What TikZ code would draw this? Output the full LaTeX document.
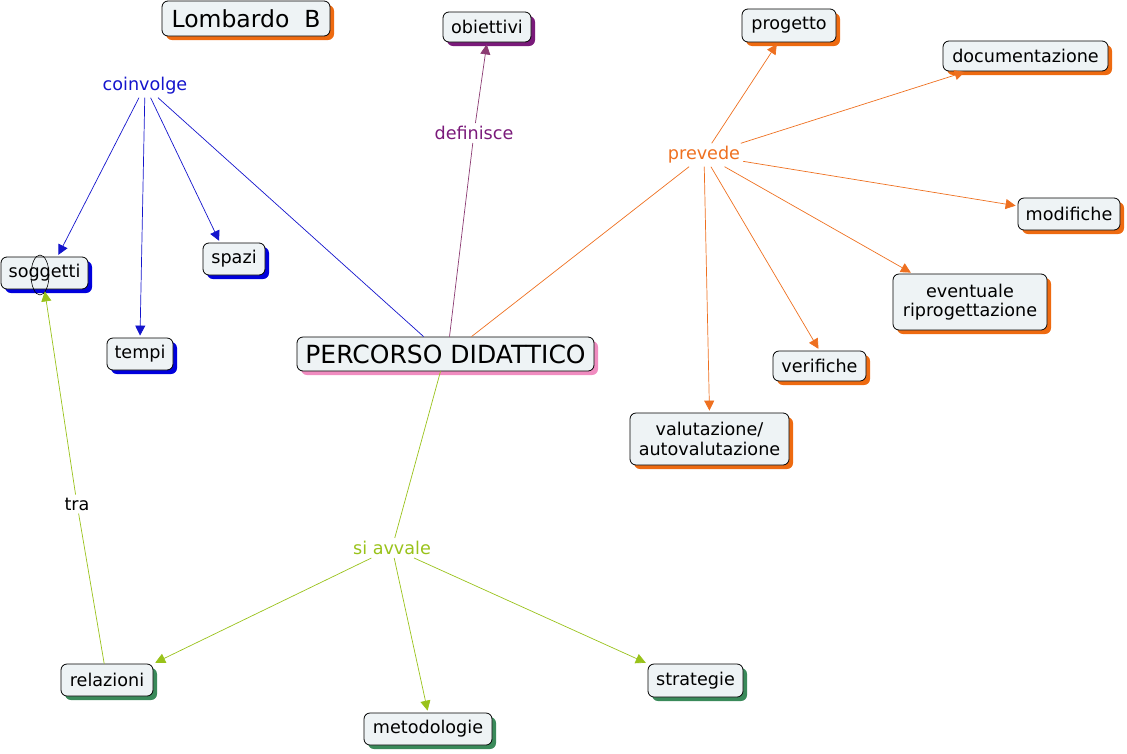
\documentclass[tikz,border=0pt]{standalone}
\usepackage{fontspec}
\setmainfont{DejaVu Sans}
\usetikzlibrary{shadows,arrows.meta}
\definecolor{boxfill}{HTML}{EEF3F5}
\definecolor{cblue}{HTML}{1414CC}
\definecolor{sblue}{HTML}{0000DD}
\definecolor{cpurple}{HTML}{7A1A7A}
\definecolor{lpurple}{HTML}{8B3A72}
\definecolor{corange}{HTML}{EE7020}
\definecolor{sorange}{HTML}{EE6A10}
\definecolor{cgreen}{HTML}{99C21A}
\definecolor{sgreen}{HTML}{3A8A5A}
\definecolor{spink}{HTML}{F08CC0}
\tikzset{
  x=1pt, y=-1pt,
  cbox/.style={draw=black, fill=boxfill, rounded corners=6pt, line width=0.8pt,
    inner sep=0pt, align=center, font=\fontsize{17.6}{19.5}\selectfont},
  sh/.style={drop shadow={shadow xshift=4pt, shadow yshift=-4pt, fill=#1, opacity=1}},
  lab/.style={inner sep=3pt, font=\fontsize{17.6}{20}\selectfont},
  arr/.style={-{Triangle[length=10pt,width=10pt]}, shorten >=2pt, line width=0.7pt},
  ln/.style={line width=0.7pt}
}
\begin{document}
\begin{tikzpicture}
\useasboundingbox (0,0) rectangle (1127,753);
% boxes
\node[cbox, sh=sorange, minimum width=168pt, minimum height=35pt, font=\fontsize{23.5}{27}\selectfont] (title) at (246,18.5) {Lombardo~~B};
\node[cbox, sh=cpurple, minimum width=88pt, minimum height=30pt] (obi) at (487,27) {obiettivi};
\node[cbox, sh=sorange, minimum width=94pt, minimum height=33pt] (prog) at (789,25.5) {progetto};
\node[cbox, sh=sorange, minimum width=165pt, minimum height=30pt] (doc) at (1025.5,56) {documentazione};
\node[cbox, sh=sorange, minimum width=102pt, minimum height=32pt] (mod) at (1069,214) {modifiche};
\node[cbox, sh=sorange, minimum width=154pt, minimum height=56pt] (ev) at (970,302) {eventuale\\riprogettazione};
\node[cbox, sh=sorange, minimum width=93pt, minimum height=30pt] (ver) at (819.5,366) {verifiche};
\node[cbox, sh=sorange, minimum width=159pt, minimum height=52pt] (val) at (709.5,439) {valutazione/\\autovalutazione};
\node[cbox, sh=spink, minimum width=297pt, minimum height=34pt, font=\fontsize{25}{28}\selectfont] (perc) at (445.5,354) {PERCORSO DIDATTICO};
\node[cbox, sh=sblue, minimum width=87pt, minimum height=32pt] (sog) at (44.5,273) {soggetti};
\node[cbox, sh=sblue, minimum width=62pt, minimum height=32pt] (spa) at (234,259) {spazi};
\node[cbox, sh=sblue, minimum width=66pt, minimum height=32pt] (tem) at (140,354) {tempi};
\node[cbox, sh=sgreen, minimum width=92pt, minimum height=32pt] (rel) at (107,680) {relazioni};
\node[cbox, sh=sgreen, minimum width=128pt, minimum height=32pt] (met) at (428,729) {metodologie};
\node[cbox, sh=sgreen, minimum width=95pt, minimum height=33pt] (str) at (695.5,680.5) {strategie};
\draw[line width=0.6pt] (40,275) ellipse [x radius=9, y radius=20];
% labels
\node[lab, text=cblue] (coi) at (145,86) {coinvolge};
\node[lab, text=cpurple] (def) at (474,133) {definisce};
\node[lab, text=corange] (pre) at (704,155) {prevede};
\node[lab, text=cgreen] (avv) at (392,548) {si avvale};
\node[lab, text=black] (tra) at (77,504) {tra};
% target points on box borders
\path (perc.north west) ++(127,0) coordinate (pc1);
\path (perc.north) ++(4,0) coordinate (pc2);
\path (perc.north) ++(26,0) coordinate (pc3);
\path (perc.south) ++(-5,0) coordinate (pc4);
\path (sog.north) ++(13,0) coordinate (sogt);
\path (spa.north) ++(-14,0) coordinate (spat);
\path (doc.south west) ++(24,0) coordinate (doct);
\path (ev.north west) ++(20,0) coordinate (evt);
\path (mod.west) ++(0,-8) coordinate (modt);
% blue
\draw[ln, cblue] (pc1) -- (coi);
\draw[arr, cblue] (coi) -- (sogt);
\draw[arr, cblue] (coi) -- (tem.north);
\draw[arr, cblue] (coi) -- (spat);
% purple
\draw[ln, lpurple] (pc2) -- (def);
\draw[arr, lpurple] (def) -- (obi.south);
% orange
\draw[ln, corange] (pc3) -- (pre);
\draw[arr, corange] (pre) -- (prog);
\draw[arr, corange] (pre) -- (doct);
\draw[arr, corange] (pre) -- (modt);
\draw[arr, corange] (pre) -- (evt);
\draw[arr, corange] (pre) -- (ver.north);
\draw[arr, corange] (pre) -- (val.north);
% green
\draw[ln, cgreen] (pc4) -- (avv);
\draw[arr, cgreen] (avv) -- (rel.north east);
\draw[arr, cgreen] (avv) -- (met.north);
\draw[arr, cgreen] (avv) -- (str.north west);
\draw[ln, cgreen] (rel) -- (tra);
\draw[arr, cgreen] (tra) -- (sog.south);
\end{tikzpicture}
\end{document}
